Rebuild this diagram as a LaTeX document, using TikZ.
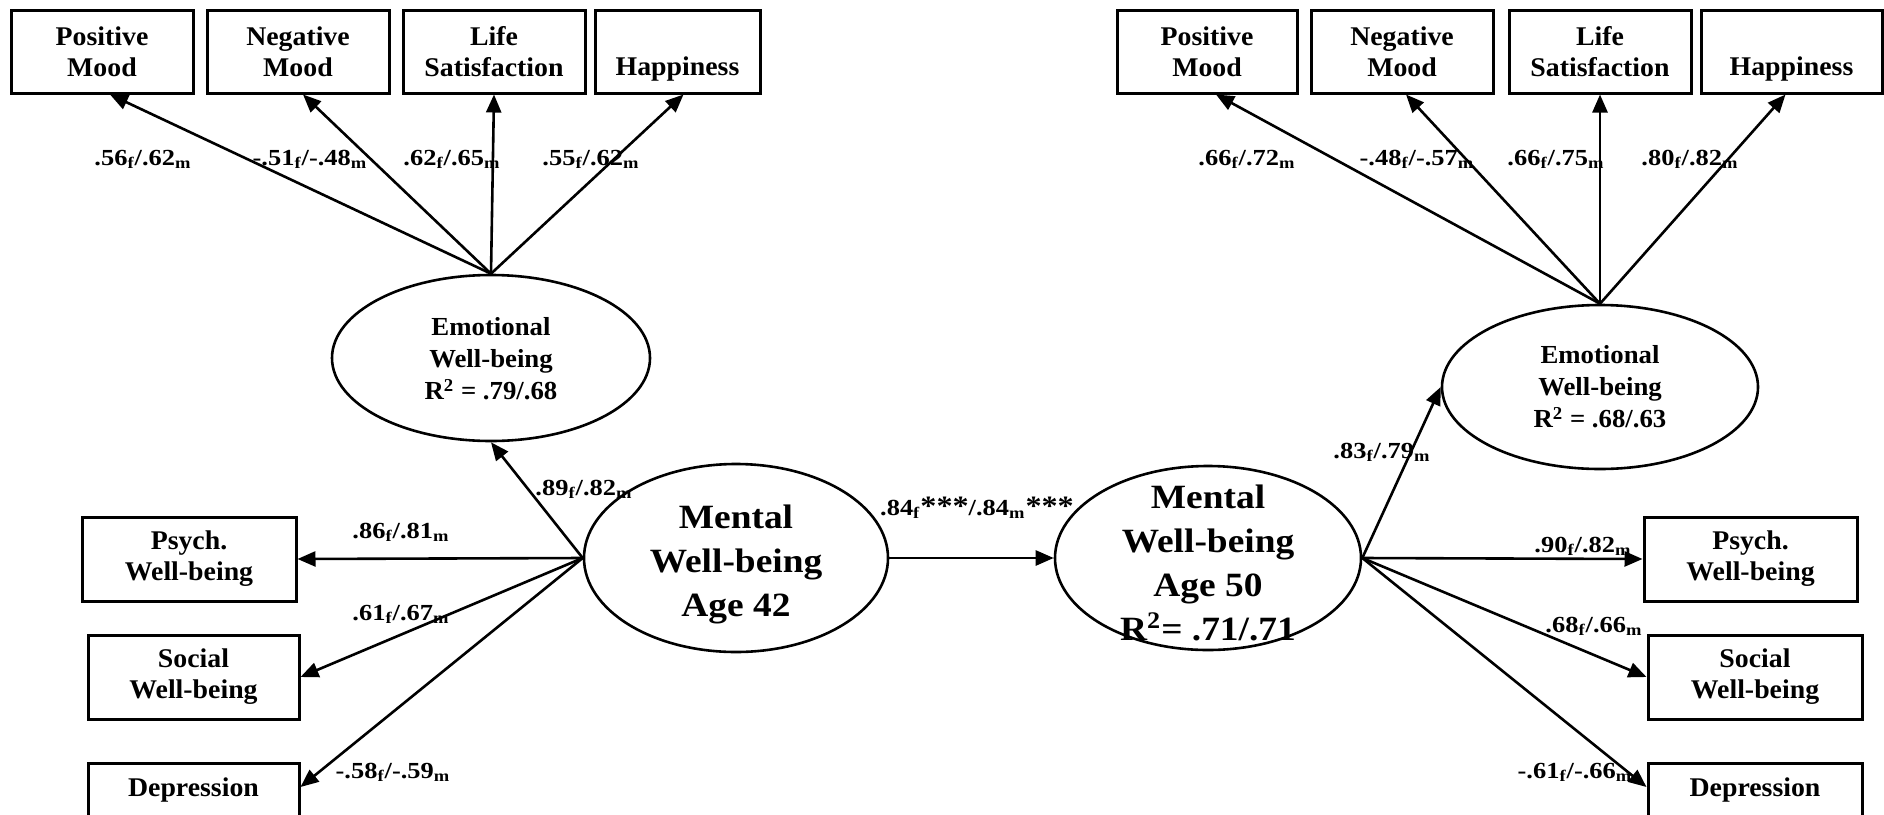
\documentclass[tikz,border=0pt]{standalone}
\usepackage{fontspec}
\setmainfont{Liberation Serif}
\newfontfamily\boxfont{Liberation Serif}[FakeStretch=1.03]
\newfontfamily\bigfont{Liberation Serif}[FakeStretch=1.1]
\newfontfamily\coeffont{Liberation Serif}[FakeStretch=1.15]
\usetikzlibrary{arrows.meta,shapes.geometric}

\tikzset{
  obs/.style={draw, line width=1.5pt, rectangle, inner sep=0pt, align=center,
    font=\boxfont\bfseries\fontsize{13.5}{15.5}\selectfont},
  lat/.style={draw, line width=1.3pt, ellipse, inner sep=0pt},
  lattext/.style={align=center, inner sep=0pt,
    font=\boxfont\bfseries\fontsize{13}{16}\selectfont},
  bigtext/.style={align=center, inner sep=0pt,
    font=\bigfont\bfseries\fontsize{17}{22}\selectfont},
  coef/.style={anchor=base, inner sep=0pt,
    font=\coeffont\bfseries\fontsize{11.5}{13}\selectfont},
  link/.style={-{Triangle[length=9pt,width=7.5pt]}, line width=1.3pt},
}

\newcommand{\fm}[2]{#1\textsubscript{f}/#2\textsubscript{m}}
\newcommand{\stars}{{\fontsize{14}{14}\selectfont***}}
\newcommand{\nodepth}[1]{\raisebox{0pt}[\height][0pt]{#1}}

\begin{document}
\begin{tikzpicture}[x=0.5pt,y=-0.5pt]
\useasboundingbox (0,0) rectangle (1884,814);

% ---- indicators of emotional well-being, age 42
\node[obs, minimum width=91pt,   minimum height=41.5pt] (pmL)  at (102,51.5)   {Positive\\Mood};
\node[obs, minimum width=91pt,   minimum height=41.5pt] (nmL)  at (298,51.5)   {Negative\\Mood};
\node[obs, minimum width=91pt,   minimum height=41.5pt] (lsL)  at (494,51.5)   {Life\\Satisfaction};
\node[obs, minimum width=82.5pt, minimum height=41.5pt] (hapL) at (677.5,51.5) {\vphantom{P}\\\nodepth{Happiness}};

% ---- indicators of emotional well-being, age 50
\node[obs, minimum width=90pt,   minimum height=41.5pt] (pmR)  at (1207,51.5)   {Positive\\Mood};
\node[obs, minimum width=91pt,   minimum height=41.5pt] (nmR)  at (1402,51.5)   {Negative\\Mood};
\node[obs, minimum width=91pt,   minimum height=41.5pt] (lsR)  at (1600,51.5)   {Life\\Satisfaction};
\node[obs, minimum width=90.5pt, minimum height=41.5pt] (hapR) at (1791.5,51.5) {\vphantom{P}\\\nodepth{Happiness}};

% ---- other indicators, age 42
\node[obs, minimum width=107pt,  minimum height=42pt] (psyL) at (189,559)   {Psych.\\Well-being};
\node[obs, minimum width=105.5pt,minimum height=42pt] (socL) at (193.5,677) {Social\\Well-being};
\node[obs, minimum width=105.5pt,minimum height=27pt] (depL) at (193.5,790) {Depression};

% ---- other indicators, age 50
\node[obs, minimum width=106.5pt,minimum height=42pt] (psyR) at (1750.5,559) {Psych.\\Well-being};
\node[obs, minimum width=107pt,  minimum height=42pt] (socR) at (1755,677)   {Social\\Well-being};
\node[obs, minimum width=107pt,  minimum height=27pt] (depR) at (1755,790)   {Depression};

% ---- latent variables
\node[lat, minimum width=159pt, minimum height=83pt] (emoL) at (491,358) {};
\node[lattext] (tEmoL) at (491,359) {Emotional\\Well-being\\R\textsuperscript{2} = .79/.68};
\node[lat, minimum width=158pt, minimum height=82pt] (emoR) at (1600,387) {};
\node[lattext] (tEmoR) at (1600,387) {Emotional\\Well-being\\R\textsuperscript{2} = .68/.63};

\node[lat, minimum width=152pt, minimum height=94pt] (mL) at (736,558) {};
\node[bigtext] (tML) at (736,564) {Mental\\Well-being\\Age 42};
\node[lat, minimum width=153pt, minimum height=92pt] (mR) at (1208,558) {};
\node[bigtext] (tMR) at (1208,563) {Mental\\Well-being\\Age 50\\R\textsuperscript{2}= .71/.71};

% ---- loadings, age 42
\draw[link] (emoL.north) -- ([xshift=4pt]pmL.south);
\draw[link] (emoL.north) -- ([xshift=2.5pt]nmL.south);
\draw[link] (emoL.north) -- (lsL.south);
\draw[link] (emoL.north) -- ([xshift=3pt]hapL.south);
\draw[link] (mL.west) -- (emoL.south);
\draw[link] (mL.west) -- (psyL.east);
\draw[link] (mL.west) -- (socL.east);
\draw[link] (mL.west) -- ([yshift=1.5pt]depL.east);

% ---- stability path
\draw[link] (mL.east) -- (mR.west);

% ---- loadings, age 50
\draw[link] (emoR.north) -- ([xshift=4.5pt]pmR.south);
\draw[link] (emoR.north) -- ([xshift=2pt]nmR.south);
\draw[link] (emoR.north) -- (lsR.south);
\draw[link] (emoR.north) -- ([xshift=-3pt]hapR.south);
\draw[link] (mR.east) -- (emoR.west);
\draw[link] (mR.east) -- (psyR.west);
\draw[link] (mR.east) -- (socR.west);
\draw[link] (mR.east) -- ([yshift=1.5pt]depR.west);

% ---- coefficients
\node[coef] (cPmL)  at (143,165)  {\fm{.56}{.62}};
\node[coef] (cNmL)  at (310,165)  {\fm{-.51}{-.48}};
\node[coef] (cLsL)  at (452,165)  {\fm{.62}{.65}};
\node[coef] (cHapL) at (591,165)  {\fm{.55}{.62}};
\node[coef] (cPmR)  at (1247,165) {\fm{.66}{.72}};
\node[coef] (cNmR)  at (1417,165) {\fm{-.48}{-.57}};
\node[coef] (cLsR)  at (1556,165) {\fm{.66}{.75}};
\node[coef] (cHapR) at (1690,165) {\fm{.80}{.82}};

\node[coef] (cEmoL) at (584,495) {\fm{.89}{.82}};
\node[coef] (cPsyL) at (401,538) {\fm{.86}{.81}};
\node[coef] (cSocL) at (401,620) {\fm{.61}{.67}};
\node[coef] (cDepL) at (393,778) {\fm{-.58}{-.59}};

\node[coef] (cStab) at (977,515) {.84\textsubscript{f}\stars/.84\textsubscript{m}\stars};

\node[coef] (cEmoR) at (1382,458) {\fm{.83}{.79}};
\node[coef] (cPsyR) at (1583,552) {\fm{.90}{.82}};
\node[coef] (cSocR) at (1594,632) {\fm{.68}{.66}};
\node[coef] (cDepR) at (1575,778) {\fm{-.61}{-.66}};
\end{tikzpicture}
\end{document}
